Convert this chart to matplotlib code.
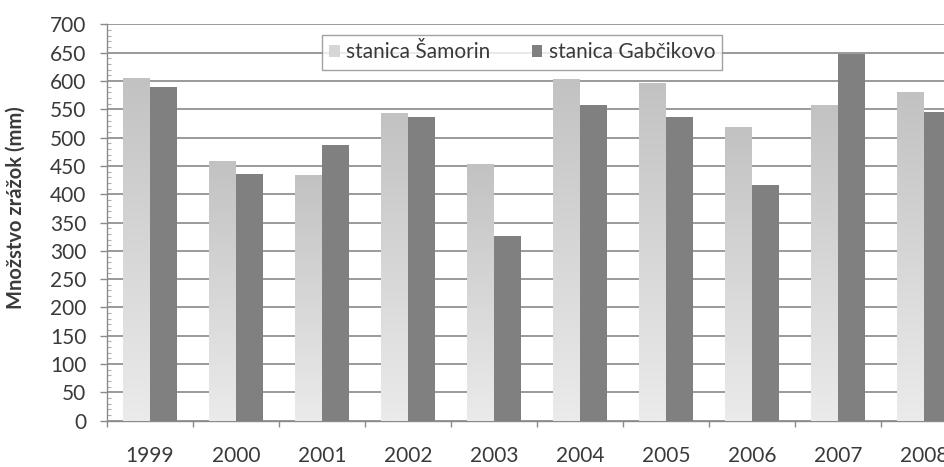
import numpy as np
import matplotlib
matplotlib.use("Agg")
import matplotlib.pyplot as plt
from matplotlib.ticker import MultipleLocator
from matplotlib.colors import LinearSegmentedColormap

years = ["1999", "2000", "2001", "2002", "2003", "2004", "2005", "2006", "2007", "2008"]
samorin = [606, 459, 434, 543, 453, 603, 597, 518, 557, 580]
gabcikovo = [589, 435, 487, 536, 326, 558, 537, 417, 648, 545]
series_names = ["stanica Šamorin", "stanica Gabčikovo"]
y_label = "Množstvo zrážok (mm)"

plt.rcParams["font.family"] = ["Lato", "DejaVu Sans"]

fig = plt.figure(figsize=(9.45, 4.67), dpi=100)
ax = fig.add_axes([0.1132, 0.0991, 0.910, 0.8488])

x = np.arange(len(years))
w = 0.31
light_cmap = LinearSegmentedColormap.from_list("light", ["#ebebeb", "#c2c2c2"])

bars_l = ax.bar(x - w / 2, samorin, w, color="#d6d6d6", zorder=3, label=series_names[0])
bars_d = ax.bar(x + w / 2, gabcikovo, w, color="#808080", zorder=3, label=series_names[1])

# vertical gradient fill for the lighter series
grad = np.linspace(0, 1, 256).reshape(-1, 1)
for b in bars_l:
    x0, y0 = b.get_x(), b.get_y()
    im = ax.imshow(grad, cmap=light_cmap, origin="lower", aspect="auto",
                   extent=[x0, x0 + b.get_width(), y0, y0 + b.get_height()],
                   zorder=3.5, interpolation="bilinear")
    im.set_clip_path(b)

ax.set_xlim(-0.5, len(years) - 0.5)
ax.set_ylim(0, 700)

ax.yaxis.set_major_locator(MultipleLocator(50))
ax.yaxis.set_minor_locator(MultipleLocator(10))
ax.grid(axis="y", which="major", color="#9a9a9a", linewidth=1.4, zorder=1)
ax.set_axisbelow(True)

ax.set_xticks(x)
ax.set_xticklabels(years)
ax.set_xticks(np.arange(len(years) + 1) - 0.5, minor=True)
ax.tick_params(axis="x", which="major", length=0, pad=18, labelsize=15, labelcolor="#3a3a3a")
ax.tick_params(axis="x", which="minor", length=4.5, direction="out", color="#8a8a8a", width=1)
ax.tick_params(axis="y", which="major", length=5, direction="out", color="#8a8a8a",
               width=1, pad=10, labelsize=15, labelcolor="#3a3a3a")
ax.tick_params(axis="y", which="minor", length=3, direction="in", color="#b0b0b0", width=0.8)

for s in ["top", "right"]:
    ax.spines[s].set_visible(False)
for s in ["left", "bottom"]:
    ax.spines[s].set_color("#8a8a8a")
    ax.spines[s].set_linewidth(1.0)

ax.set_ylabel(y_label, fontsize=14.5, fontweight="bold", color="#3a3a3a")
ax.yaxis.set_label_coords(-0.094, 0.537)

leg = ax.legend(loc="center", bbox_to_anchor=(0.483, 0.929), ncol=2, frameon=True,
                fancybox=False, edgecolor="#8a8a8a", fontsize=15, handlelength=0.5,
                handleheight=0.5, handletextpad=0.3, columnspacing=2.0,
                borderpad=0.35, labelcolor="#3a3a3a")
leg.get_frame().set_linewidth(1.0)
leg.legend_handles[0].set_facecolor("#d6d6d6")
leg.set_zorder(5)

fig.savefig("out.png", dpi=100, facecolor="white")
